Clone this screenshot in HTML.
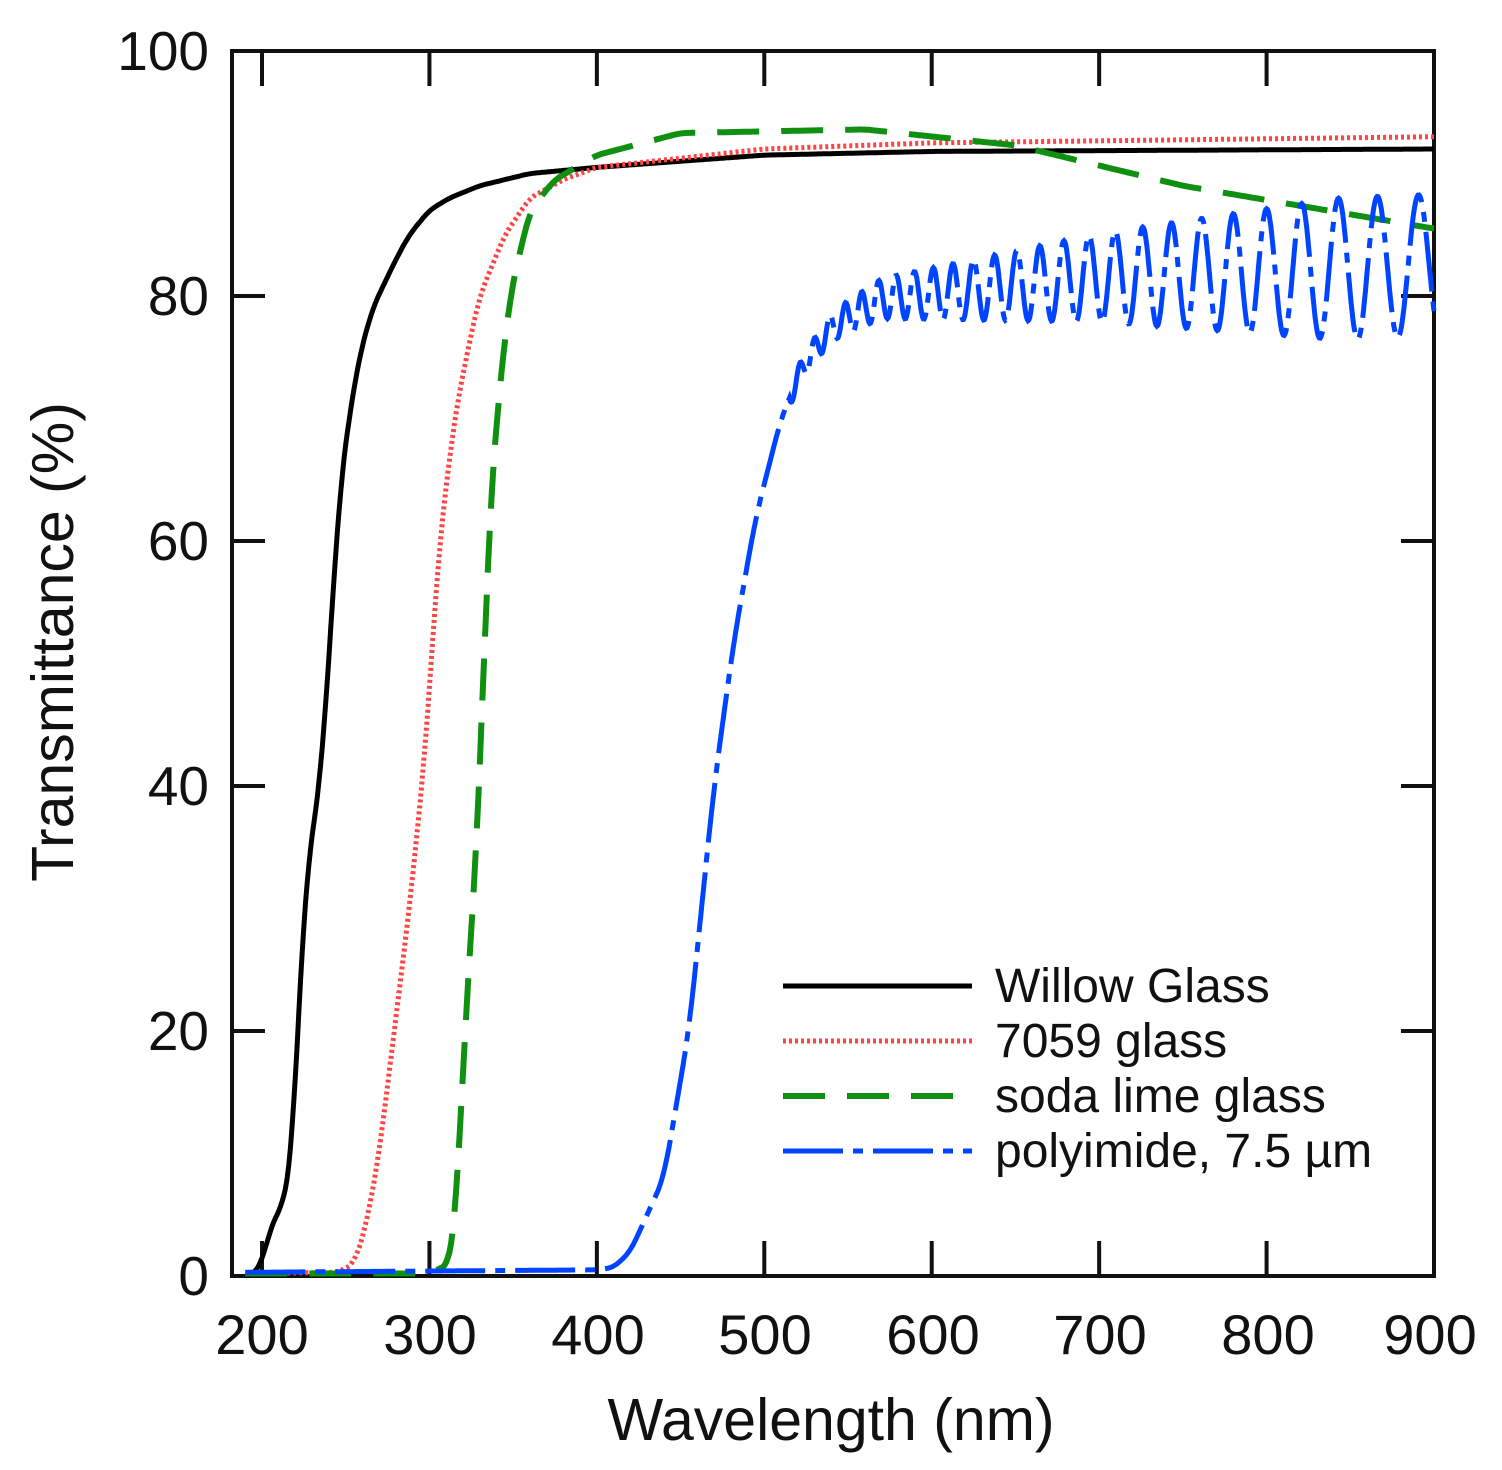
<!DOCTYPE html>
<html><head><meta charset="utf-8"><style>
html,body{margin:0;padding:0;background:#fff;}
svg{display:block;font-family:"Liberation Sans",sans-serif;}
</style></head><body>
<svg id="s" width="1502" height="1470" viewBox="0 0 1502 1470">
<rect x="232" y="51" width="1202" height="1225" fill="none" stroke="#111" stroke-width="4"/>
<g id="ticks" stroke="#111" stroke-width="4"></g>
<g font-size="55" fill="#111" text-anchor="end">
<text x="209" y="70">100</text><text x="209" y="315">80</text><text x="209" y="560">60</text>
<text x="209" y="805">40</text><text x="209" y="1050">20</text><text x="209" y="1295">0</text>
</g>
<g font-size="56" fill="#111" text-anchor="middle">
<text x="262" y="1354">200</text><text x="430" y="1354">300</text><text x="598" y="1354">400</text>
<text x="765" y="1354">500</text><text x="933" y="1354">600</text><text x="1100" y="1354">700</text>
<text x="1268" y="1354">800</text><text x="1430" y="1354">900</text>
</g>
<text x="831" y="1440" font-size="59" text-anchor="middle" fill="#111">Wavelength (nm)</text>
<text transform="translate(73,642) rotate(-90)" font-size="59" text-anchor="middle" fill="#111">Transmittance (%)</text>
<g id="curves" fill="none"></g>
<g stroke-width="5">
<line x1="783" y1="986" x2="972" y2="986" stroke="#000"/>
<line x1="783" y1="1041" x2="972" y2="1041" stroke="#ff4444" stroke-dasharray="3 3"/>
<line x1="783" y1="1096" x2="972" y2="1096" stroke="#109010" stroke-width="6" stroke-dasharray="42 22"/>
<line x1="783" y1="1151" x2="972" y2="1151" stroke="#0044ff" stroke-dasharray="60 10 10 10"/>
</g>
<g font-size="48" fill="#111">
<text x="995" y="1002">Willow Glass</text><text x="995" y="1057">7059 glass</text>
<text x="995" y="1112">soda lime glass</text><text x="995" y="1167">polyimide, 7.5 µm</text>
</g>
</svg>
<script>
const X=l=>262+(l-200)*1.6743, Y=t=>1276-t*12.25;
const tk=document.getElementById('ticks');let h='';
for(let v=20;v<100;v+=20){h+=`<line x1="232" y1="${Y(v)}" x2="265" y2="${Y(v)}"/><line x1="1401" y1="${Y(v)}" x2="1434" y2="${Y(v)}"/>`;}
for(let l=200;l<900;l+=100){h+=`<line x1="${X(l)}" y1="1276" x2="${X(l)}" y2="1241"/><line x1="${X(l)}" y1="51" x2="${X(l)}" y2="86"/>`;}
tk.innerHTML=h;
function interp(pts,l){if(l<=pts[0][0])return pts[0][1];for(let i=1;i<pts.length;i++){if(l<=pts[i][0]){const a=pts[i-1],b=pts[i];return a[1]+(b[1]-a[1])*(l-a[0])/(b[0]-a[0]);}}return pts[pts.length-1][1];}
function smooth(pts){return l=>{let s=0;for(let k=-3;k<=3;k++)s+=interp(pts,l+k*1.2);return s/7;};}
function path(f,a,b,st){let d='';for(let l=a;l<=b;l+=st){d+=(d?'L':'M')+X(l).toFixed(1)+','+Y(f(l)).toFixed(1);}return d;}
const W=[[193,0],[200,1],[205,4],[213,6],[218,10],[222,22],[226,32],[236,42],[242,55],[247,65],[252,70],[258,75],[266,79],[273,81],[280,83],[288,85],[300,87],[312,88],[330,89],[360,90],[400,90.5],[500,91.5],[600,91.8],[900,92]];
const R=[[190,0.2],[245,0.3],[255,1],[262,4],[270,10],[279,20],[288,30],[297,42],[306,60],[315,70],[322,75],[330,80],[345,85],[360,88],[380,89.5],[400,90.5],[500,92],[600,92.5],[900,93]];
const G=[[190,0.2],[300,0.2],[312,1],[316,5],[321,20],[326,30],[330,40],[335,60],[340,70],[348,80],[360,87],[375,89.5],[400,91.5],[450,93.3],[560,93.6],[650,92.3],[750,89],[900,85.5]];
const B=[[190,0.3],[400,0.5],[410,0.7],[420,2],[440,8],[455,20],[470,40],[482,52],[495,62],[510,70],[522,74],[540,77.5],[570,79.8],[700,81.5],[900,82.5]];
const fw=smooth(W),fr=smooth(R),fg=smooth(G),fb=smooth(B);
const pb=l=>{let v=fb(l);if(l>515){const a=Math.min(1,(l-515)/330)*5+0.8;v+=a*Math.sin(2*Math.PI*31400/l);}return v;};
document.getElementById('curves').innerHTML=
`<path d="${path(fw,190,900,1)}" stroke="#000" stroke-width="5"/>`+
`<path d="${path(fr,190,900,1)}" stroke="#ff4444" stroke-width="5" stroke-dasharray="3 3"/>`+
`<path d="${path(fg,190,900,1)}" stroke="#109010" stroke-width="6" stroke-dasharray="42 22"/>`+
`<path d="${path(pb,190,900,0.5)}" stroke="#0044ff" stroke-width="5" stroke-dasharray="60 10 10 10"/>`;
</script>
</body></html>
